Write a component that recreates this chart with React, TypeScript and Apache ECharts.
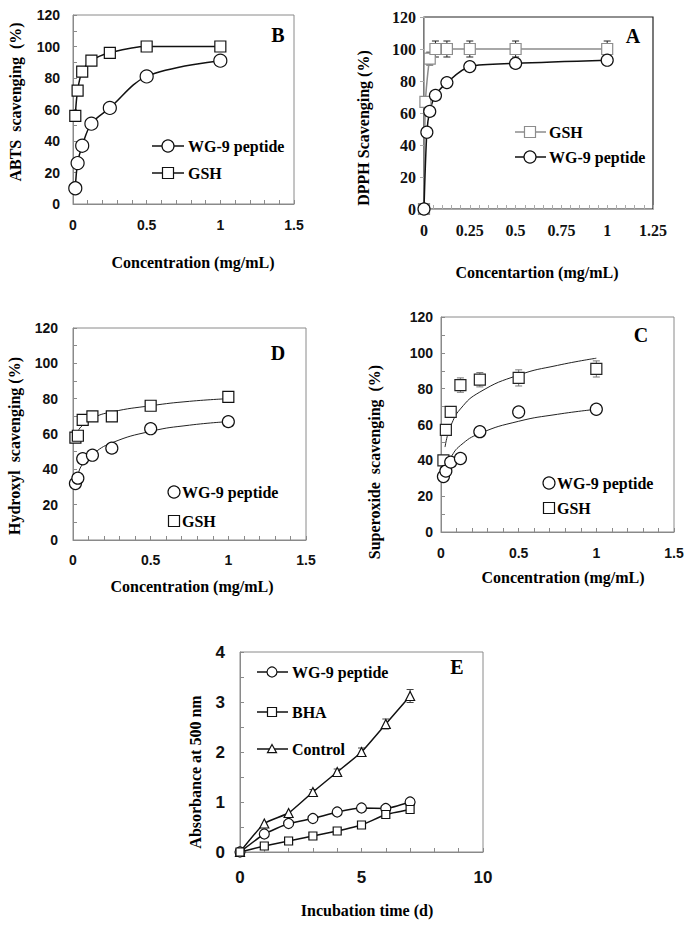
import React, { useEffect, useRef } from "react";
import * as echarts from "echarts";

// ---------- Data ----------
const conc = [0.0156, 0.03125, 0.0625, 0.125, 0.25, 0.5, 1];

// Panel B (ABTS)
const abtsPeptide = [10, 26, 37, 51, 61, 81, 91];
const abtsGSH = [56, 72, 84, 91, 96, 100, 100];

// Panel A (DPPH)
const dpphPeptideConc = [0, 0.0156, 0.03125, 0.0625, 0.125, 0.25, 0.5, 1];
const dpphPeptide = [0, 48, 61, 71, 79, 89, 91, 93];
const dpphPeptideErr = [0, 0, 0, 0, 0, 3, 3, 2];
const dpphGSHConc = [0, 0.0078, 0.03125, 0.0625, 0.125, 0.25, 0.5, 1];
const dpphGSH = [0, 67, 94, 100, 100, 100, 100, 100];
const dpphGSHErr = [0, 0, 4, 5, 5, 5, 5, 5];

// Panel D (Hydroxyl)
const hydroxylPeptide = [32, 35, 46, 48, 52, 63, 67];
const hydroxylGSH = [58, 59, 68, 70, 70, 76, 81];
const hydroxylFitX = [0.0156, 0.03125, 0.0625, 0.125, 0.25, 0.5, 0.75, 1];
const hydroxylPeptideFit = [31, 37, 43, 48.5, 55, 61.5, 65, 67];
const hydroxylGSHFit = [58, 61.5, 65, 69, 72.5, 76, 78.5, 80];

// Panel C (Superoxide)
const superPeptide = [31, 34, 39, 41, 56, 67, 68.5];
const superGSH = [40, 57, 67, 82, 85, 86, 91];
const superGSHErr = [0, 3, 3, 4, 4, 4.5, 4.5];
const superFitX = [0.026, 0.04, 0.0625, 0.125, 0.25, 0.5, 0.75, 1];
const superPeptideFit = [33, 37.3, 41.6, 48.3, 55, 61.8, 65.7, 68.5];
const superGSHFit = [47.4, 53.3, 59.3, 68.7, 78.1, 87.6, 93, 97];

// Panel E (lipid peroxidation)
const days = [0, 1, 2, 3, 4, 5, 6, 7];
const absPeptide = [0, 0.36, 0.57, 0.67, 0.8, 0.88, 0.87, 1.0];
const absBHA = [0, 0.12, 0.22, 0.32, 0.42, 0.54, 0.75, 0.85];
const absControl = [0, 0.57, 0.78, 1.2, 1.6, 2.0, 2.56, 3.12];
const absControlErr = [0, 0, 0, 0.05, 0.06, 0.08, 0.1, 0.13];

// ---------- Styling ----------
const SANS = "'Liberation Sans', Arial, sans-serif";
const SERIF = "'Liberation Serif', 'Times New Roman', serif";
const FRAME = "#8a8a8a";
const GRAY = "#8c8c8c";

const pairs = (xs: number[], ys: number[]) => xs.map((x, i) => [x, ys[i]]);
const triples = (xs: number[], ys: number[], es: number[]) => xs.map((x, i) => [x, ys[i], es[i]]);

function xAx(gi: number, max: number, interval: number, split: number, font: string, size: number, margin: number, lineColor = FRAME) {
  return {
    type: "value", gridIndex: gi, min: 0, max, interval,
    axisLine: { show: true, lineStyle: { color: lineColor, width: 1 } },
    axisTick: { show: true, inside: true, length: 4, lineStyle: { color: lineColor } },
    minorTick: { show: true, splitNumber: split, length: 4, lineStyle: { color: lineColor } },
    splitLine: { show: false },
    axisLabel: { color: "#111", fontFamily: font, fontWeight: "bold", fontSize: size, margin },
  };
}
function yAx(gi: number, max: number, interval: number, split: number, font: string, size: number, margin: number, inside = true, lineColor = FRAME) {
  return {
    type: "value", gridIndex: gi, min: 0, max, interval,
    axisLine: { show: true, lineStyle: { color: lineColor, width: 1 } },
    axisTick: { show: true, inside, length: 4, lineStyle: { color: lineColor } },
    minorTick: { show: split > 1, splitNumber: split, length: 4, lineStyle: { color: lineColor } },
    splitLine: { show: false },
    axisLabel: { color: "#111", fontFamily: font, fontWeight: "bold", fontSize: size, margin },
  };
}

function lineS(gi: number, data: number[][], symbol: string, size: number, color: string, smooth: number | boolean, width = 1.5) {
  return {
    type: "line", xAxisIndex: gi, yAxisIndex: gi, data, symbol, symbolSize: size, smooth,
    showAllSymbol: true,
    lineStyle: { color, width },
    itemStyle: { color: "#fff", borderColor: color, borderWidth: 1.2 },
    z: 4,
  };
}
function scatterS(gi: number, data: number[][], symbol: string, size: number, color: string) {
  return {
    type: "scatter", xAxisIndex: gi, yAxisIndex: gi, data, symbol, symbolSize: size,
    itemStyle: { color: "#fff", borderColor: color, borderWidth: 1.2, opacity: 1 },
    z: 4,
  };
}
function fitS(gi: number, data: number[][]) {
  return {
    type: "line", xAxisIndex: gi, yAxisIndex: gi, data, symbol: "none", smooth: true,
    lineStyle: { color: "#222", width: 1 }, z: 3,
  };
}
function errS(gi: number, data: number[][], color: string) {
  return {
    type: "custom", xAxisIndex: gi, yAxisIndex: gi, data, z: 2,
    encode: { x: 0, y: 1 },
    renderItem: (params: any, api: any) => {
      const x = api.value(0), y = api.value(1), e = api.value(2);
      if (!e) return null;
      const top = api.coord([x, y + e]);
      const bot = api.coord([x, y - e]);
      const st = { stroke: color, lineWidth: 1 };
      return {
        type: "group",
        children: [
          { type: "line", shape: { x1: top[0], y1: top[1], x2: bot[0], y2: bot[1] }, style: st },
          { type: "line", shape: { x1: top[0] - 3.5, y1: top[1], x2: top[0] + 3.5, y2: top[1] }, style: st },
          { type: "line", shape: { x1: bot[0] - 3.5, y1: bot[1], x2: bot[0] + 3.5, y2: bot[1] }, style: st },
        ],
      };
    },
  };
}

// graphic helpers
function txt(x: number, y: number, text: string, size = 16, align = "left", font = SERIF, rotation = 0) {
  return {
    type: "text", x, y, rotation,
    style: { text, fontFamily: font, fontWeight: "bold", fontSize: size, fill: "#000", align, verticalAlign: "middle" },
    z: 10,
  };
}
function marker(kind: string, cx: number, cy: number, color: string, r = 5.5) {
  const style = { fill: "#fff", stroke: color, lineWidth: 1.2 };
  if (kind === "circle") return { type: "circle", shape: { cx, cy, r }, style, z: 11 };
  if (kind === "rect") return { type: "rect", shape: { x: cx - r, y: cy - r, width: 2 * r, height: 2 * r }, style, z: 11 };
  return {
    type: "polygon",
    shape: { points: [[cx, cy - r], [cx + r, cy + r * 0.8], [cx - r, cy + r * 0.8]] },
    style, z: 11,
  };
}
function hline(x1: number, x2: number, y: number, color: string, w = 1.5) {
  return { type: "line", shape: { x1, y1: y, x2, y2: y }, style: { stroke: color, lineWidth: w }, z: 10 };
}

export default function App() {
  const ref = useRef<HTMLDivElement>(null);
  useEffect(() => {
    if (!ref.current) return;
    const chart = echarts.init(ref.current, undefined, { renderer: "svg" });

    const grids = [
      { left: 73, top: 15, width: 221, height: 189, show: true, borderColor: FRAME, borderWidth: 1 }, // B
      { left: 424, top: 17, width: 229, height: 192, show: true, borderColor: "#222", borderWidth: 1.2 }, // A
      { left: 73, top: 328, width: 233, height: 212, show: true, borderColor: FRAME, borderWidth: 1 }, // D
      { left: 441, top: 317, width: 233, height: 215, show: true, borderColor: FRAME, borderWidth: 1 }, // C
      { left: 240, top: 652, width: 243, height: 200, show: true, borderColor: FRAME, borderWidth: 1 }, // E
    ].map((g) => ({ ...g, backgroundColor: "transparent" }));

    const xAxis = [
      xAx(0, 1.5, 0.5, 5, SANS, 14, 14),
      xAx(1, 1.25, 0.25, 5, SERIF, 16, 13, "#aaa"),
      xAx(2, 1.5, 0.5, 5, SANS, 14, 13),
      xAx(3, 1.5, 0.5, 5, SANS, 14, 14),
      xAx(4, 10, 5, 5, SANS, 17, 17),
    ];
    const yAxis = [
      yAx(0, 120, 20, 2, SANS, 14, 13),
      yAx(1, 120, 20, 1, SERIF, 16, 8, false, "#aaa"),
      yAx(2, 120, 20, 2, SANS, 14, 15),
      yAx(3, 120, 20, 2, SANS, 14, 8),
      yAx(4, 4, 1, 2, SANS, 17, 15),
    ];

    const series: any[] = [
      // B
      lineS(0, pairs(conc, abtsGSH), "rect", 11, "#111", 0.35),
      lineS(0, pairs(conc, abtsPeptide), "circle", 13, "#111", 0.35),
      // A
      errS(1, triples(dpphGSHConc, dpphGSH, dpphGSHErr), "#222"),
      errS(1, triples(dpphPeptideConc, dpphPeptide, dpphPeptideErr), "#222"),
      lineS(1, pairs(dpphGSHConc, dpphGSH), "rect", 11, GRAY, 0.2),
      lineS(1, pairs(dpphPeptideConc, dpphPeptide), "circle", 12, "#111", 0.3),
      // D
      fitS(2, pairs(hydroxylFitX, hydroxylGSHFit)),
      fitS(2, pairs(hydroxylFitX, hydroxylPeptideFit)),
      scatterS(2, pairs(conc, hydroxylGSH), "rect", 11, "#111"),
      scatterS(2, pairs(conc, hydroxylPeptide), "circle", 12, "#111"),
      // C
      errS(3, triples(conc, superGSH, superGSHErr), "#777"),
      fitS(3, pairs(superFitX, superGSHFit)),
      fitS(3, pairs(superFitX, superPeptideFit)),
      scatterS(3, pairs(conc, superGSH), "rect", 11, "#222"),
      scatterS(3, pairs(conc, superPeptide), "circle", 12, "#111"),
      // E
      errS(4, triples(days, absControl, absControlErr), "#444"),
      lineS(4, pairs(days, absControl), "triangle", 9, "#111", 0.15),
      lineS(4, pairs(days, absPeptide), "circle", 10, "#111", 0.15),
      lineS(4, pairs(days, absBHA), "rect", 8, "#111", 0.1),
    ];

    const graphic: any[] = [
      // B
      txt(15, 102, "ABTS  scavenging  (%)", 16, "center", SERIF, Math.PI / 2),
      txt(193, 262, "Concentration (mg/mL)", 16, "center"),
      txt(278, 35, "B", 20, "center"),
      hline(152, 184, 146, "#111"), marker("circle", 168, 146, "#111", 6),
      txt(188, 146, "WG-9 peptide"),
      hline(152, 184, 173, "#111"), marker("rect", 168, 173, "#111", 5.5),
      txt(188, 173, "GSH"),
      // A
      txt(363, 128, "DPPH Scavenging (%)", 16, "center", SERIF, Math.PI / 2),
      txt(537, 272, "Concentartion (mg/mL)", 16, "center"),
      txt(633, 36, "A", 20, "center"),
      hline(515, 546, 132, GRAY), marker("rect", 530, 132, GRAY, 5.5),
      txt(549, 132, "GSH"),
      hline(515, 546, 157, "#111"), marker("circle", 530, 157, "#111", 6),
      txt(549, 157, "WG-9 peptide"),
      // D
      txt(14, 446, "Hydroxyl  scavenging (%)", 16, "center", SERIF, Math.PI / 2),
      txt(192, 586, "Concentration (mg/mL)", 16, "center"),
      txt(278, 353, "D", 20, "center"),
      marker("circle", 174, 492, "#111", 6), txt(182, 492, "WG-9 peptide"),
      marker("rect", 174, 521, "#111", 5.5), txt(182, 521, "GSH"),
      // C
      txt(374, 462, "Superoxide  scavenging  (%)", 16, "center", SERIF, Math.PI / 2),
      txt(563, 577, "Concentration (mg/mL)", 16, "center"),
      txt(641, 335, "C", 20, "center"),
      marker("circle", 549, 483, "#111", 6), txt(557, 483, "WG-9 peptide"),
      marker("rect", 549, 508, "#111", 5.5), txt(557, 508, "GSH"),
      // E
      txt(195, 772, "Absorbance at 500 nm", 16, "center", SERIF, Math.PI / 2),
      txt(367, 910, "Incubation time (d)", 16, "center"),
      txt(457, 667, "E", 20, "center"),
      hline(257, 288, 672, "#111"), marker("circle", 272, 672, "#111", 5),
      txt(292, 672, "WG-9 peptide"),
      hline(257, 288, 712, "#111"), marker("rect", 272, 712, "#111", 4.5),
      txt(292, 712, "BHA"),
      hline(257, 288, 749, "#111"), marker("triangle", 272, 749, "#111", 4.5),
      txt(292, 749, "Control"),
    ];

    chart.setOption({
      animation: false,
      backgroundColor: "#fff",
      grid: grids,
      xAxis,
      yAxis,
      series,
      graphic,
    });
    return () => chart.dispose();
  }, []);

  return (
    <div
      ref={ref}
      style={{ position: "absolute", left: 0, top: 0, width: 692, height: 926 }}
    />
  );
}
